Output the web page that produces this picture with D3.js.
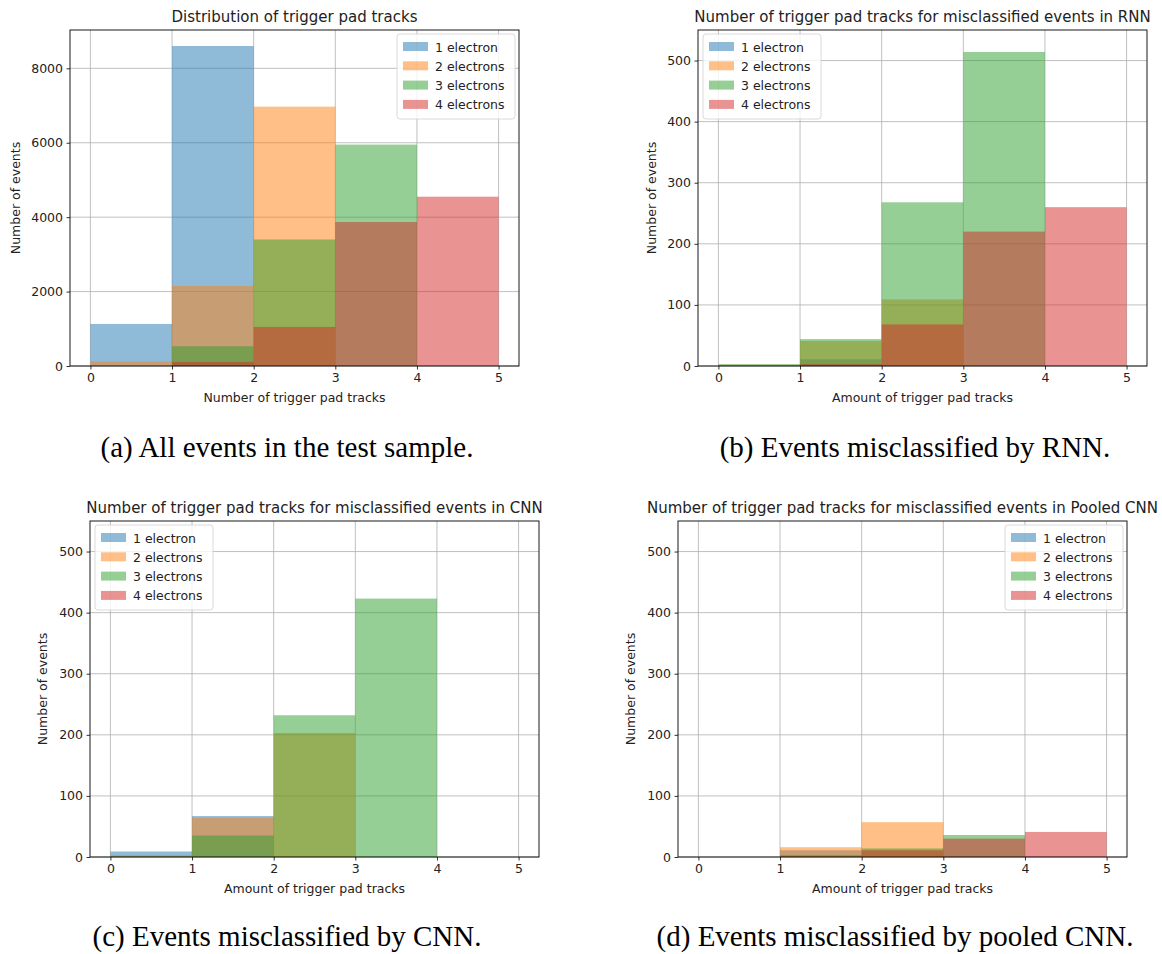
<!DOCTYPE html>
<html>
<head>
<meta charset="utf-8">
<script src="https://cdn.jsdelivr.net/npm/d3@7"></script>
<style>
  body { margin: 0; background: #fff; }
  svg { display: block; }
  .tick text { font-family: "DejaVu Sans", sans-serif; fill: #222; }
  .caption { font-family: "Liberation Serif", "Times New Roman", serif; }
</style>
</head>
<body>
<div id="vis"></div>
<script>
// bin edges and legend labels
var binEdges = [0, 1, 2, 3, 4, 5];
var seriesNames = ['1 electron', '2 electrons', '3 electrons', '4 electrons'];
var colors = ['#1f77b4', '#ff7f0e', '#2ca02c', '#d62728'];

// counts per bin [0-1, 1-2, 2-3, 3-4, 4-5], one row per electron count
var allEvents = [
  [1130, 8600, 0, 0, 0],
  [120, 2150, 6970, 0, 0],
  [0, 530, 3400, 5950, 0],
  [0, 110, 1050, 3870, 4550]
];
var rnnMiss = [
  [0, 11, 0, 0, 0],
  [2, 41, 109, 0, 0],
  [3, 44, 268, 514, 0],
  [0, 3, 68, 220, 260]
];
var cnnMiss = [
  [9, 67, 0, 0, 0],
  [3, 64, 203, 0, 0],
  [1, 35, 232, 423, 0],
  [0, 0, 0, 0, 0]
];
var pooledMiss = [
  [0, 11, 0, 0, 0],
  [0, 16, 57, 0, 0],
  [0, 3, 14, 36, 0],
  [0, 1, 11, 30, 41]
];

var yTicksA = [0, 2000, 4000, 6000, 8000];
var yTicksB = [0, 100, 200, 300, 400, 500];

var width = 1162;
var height = 954;
var textSize = 12.5;

// layout of each sub-figure
var panels = [
  { data: allEvents, title: 'Distribution of trigger pad tracks',
    xlabel: 'Number of trigger pad tracks', ymax: 9030, yticks: yTicksA,
    box: { left: 70, right: 519, top: 30, bottom: 366 }, legend: 'right', ylabX: 16,
    caption: '(a) All events in the test sample.', capX: 287, capY: 457 },
  { data: rnnMiss, title: 'Number of trigger pad tracks for misclassified events in RNN',
    xlabel: 'Amount of trigger pad tracks', ymax: 550, yticks: yTicksB,
    box: { left: 698, right: 1147, top: 30, bottom: 366 }, legend: 'left', ylabX: 652,
    caption: '(b) Events misclassified by RNN.', capX: 915, capY: 457 },
  { data: cnnMiss, title: 'Number of trigger pad tracks for misclassified events in CNN',
    xlabel: 'Amount of trigger pad tracks', ymax: 550, yticks: yTicksB,
    box: { left: 90, right: 539, top: 521, bottom: 857 }, legend: 'left', ylabX: 43,
    caption: '(c) Events misclassified by CNN.', capX: 287, capY: 946 },
  { data: pooledMiss, title: 'Number of trigger pad tracks for misclassified events in Pooled CNN',
    xlabel: 'Amount of trigger pad tracks', ymax: 550, yticks: yTicksB,
    box: { left: 678, right: 1127, top: 521, bottom: 857 }, legend: 'right', ylabX: 631,
    caption: '(d) Events misclassified by pooled CNN.', capX: 895, capY: 946 }
];

var svg = d3.select('#vis').append('svg')
  .attr('width', width)
  .attr('height', height);

panels.forEach(function(p) {
  var b = p.box;
  var g = svg.append('g');

  var x = d3.scaleLinear().domain([-0.25, 5.25]).range([b.left, b.right]);
  var y = d3.scaleLinear().domain([0, p.ymax]).range([b.bottom, b.top]);

  // grid
  g.append('g').selectAll('line.vg')
    .data(binEdges).enter().append('line')
    .attr('x1', function(d) { return x(d); })
    .attr('x2', function(d) { return x(d); })
    .attr('y1', b.top).attr('y2', b.bottom)
    .attr('stroke', '#b0b0b0').attr('stroke-width', 0.8);
  g.append('g').selectAll('line.hg')
    .data(p.yticks).enter().append('line')
    .attr('x1', b.left).attr('x2', b.right)
    .attr('y1', function(d) { return y(d); })
    .attr('y2', function(d) { return y(d); })
    .attr('stroke', '#b0b0b0').attr('stroke-width', 0.8);

  // histogram bars, drawn in order so later series sit on top
  p.data.forEach(function(counts, si) {
    g.append('g').selectAll('rect')
      .data(counts).enter().append('rect')
      .attr('x', function(d, i) { return x(binEdges[i]); })
      .attr('width', function(d, i) { return x(binEdges[i + 1]) - x(binEdges[i]); })
      .attr('y', function(d) { return y(d); })
      .attr('height', function(d) { return y(0) - y(d); })
      .attr('fill', colors[si])
      .attr('fill-opacity', 0.5);
  });

  // axes
  var xAxis = d3.axisBottom(x).tickValues(binEdges).tickSize(3.5).tickPadding(3.5)
    .tickFormat(d3.format('d'));
  var yAxis = d3.axisLeft(y).tickValues(p.yticks).tickSize(3.5).tickPadding(3.5)
    .tickFormat(d3.format('d'));

  var gx = g.append('g')
    .attr('transform', 'translate(0,' + b.bottom + ')')
    .call(xAxis);
  var gy = g.append('g')
    .attr('transform', 'translate(' + b.left + ',0)')
    .call(yAxis);
  [gx, gy].forEach(function(a) {
    a.select('.domain').remove();
    a.selectAll('.tick line').attr('stroke', '#000').attr('stroke-width', 0.8);
    a.selectAll('.tick text').attr('font-size', textSize);
  });

  // frame
  g.append('rect')
    .attr('x', b.left).attr('y', b.top)
    .attr('width', b.right - b.left).attr('height', b.bottom - b.top)
    .attr('fill', 'none').attr('stroke', '#000').attr('stroke-width', 0.9);

  // title and labels
  g.append('text')
    .attr('x', (b.left + b.right) / 2).attr('y', b.top - 8)
    .attr('text-anchor', 'middle')
    .attr('font-family', 'DejaVu Sans').attr('font-size', 15)
    .attr('fill', '#222')
    .text(p.title);
  g.append('text')
    .attr('x', (b.left + b.right) / 2).attr('y', b.bottom + 36)
    .attr('text-anchor', 'middle')
    .attr('font-family', 'DejaVu Sans').attr('font-size', textSize)
    .attr('fill', '#222')
    .text(p.xlabel);
  g.append('text')
    .attr('transform', 'translate(' + (p.ylabX + 4) + ',' + ((b.top + b.bottom) / 2) + ') rotate(-90)')
    .attr('text-anchor', 'middle')
    .attr('font-family', 'DejaVu Sans').attr('font-size', textSize)
    .attr('fill', '#222')
    .text('Number of events');

  // legend
  var lw = 118, lh = 85;
  var lx = p.legend === 'right' ? b.right - lw - 4 : b.left + 5;
  var ly = b.top + 4;
  var lg = g.append('g').attr('transform', 'translate(' + lx + ',' + ly + ')');
  lg.append('rect')
    .attr('width', lw).attr('height', lh).attr('rx', 3)
    .attr('fill', '#fff').attr('fill-opacity', 0.8)
    .attr('stroke', '#d0d0d0').attr('stroke-width', 0.8);
  seriesNames.forEach(function(name, i) {
    var ry = 13 + i * 19.3;
    lg.append('rect')
      .attr('x', 6).attr('y', ry - 5).attr('width', 25).attr('height', 9)
      .attr('fill', colors[i]).attr('fill-opacity', 0.5);
    lg.append('text')
      .attr('x', 38).attr('y', ry + 4.5)
      .attr('font-family', 'DejaVu Sans').attr('font-size', textSize)
      .attr('fill', '#222')
      .text(name);
  });

  // caption under the sub-figure
  svg.append('text')
    .attr('class', 'caption')
    .attr('x', p.capX).attr('y', p.capY)
    .attr('text-anchor', 'middle')
    .attr('font-size', 29)
    .attr('fill', '#000')
    .text(p.caption);
});
</script>
</body>
</html>
